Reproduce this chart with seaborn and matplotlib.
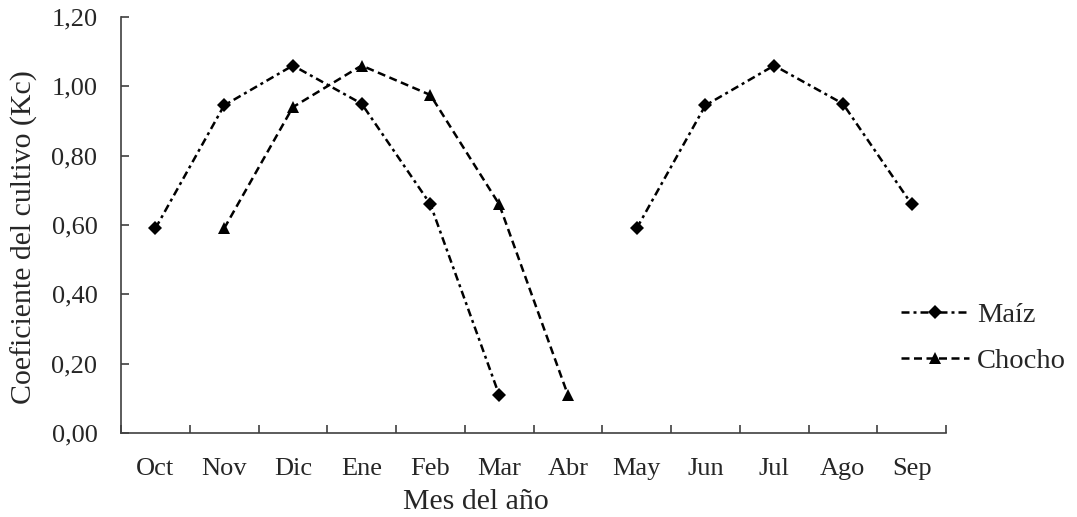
import numpy as np
import pandas as pd
import matplotlib
matplotlib.use("Agg")
import matplotlib.pyplot as plt
from matplotlib.ticker import FuncFormatter, FixedLocator
import seaborn as sns

# Crop coefficient (Kc) by month, agricultural year Oct-Sep
meses = ["Oct", "Nov", "Dic", "Ene", "Feb", "Mar", "Abr", "May", "Jun", "Jul", "Ago", "Sep"]
kc_maiz = [0.59, 0.945, 1.06, 0.95, 0.66, 0.11, np.nan, 0.59, 0.945, 1.06, 0.95, 0.66]
kc_chocho = [np.nan, 0.59, 0.94, 1.06, 0.975, 0.66, 0.11, np.nan, np.nan, np.nan, np.nan, np.nan]
y_ticks = [0.0, 0.2, 0.4, 0.6, 0.8, 1.0, 1.2]


def segmentos(valores):
    """Split a monthly series into continuous runs (gaps are NaN)."""
    partes, actual = [], []
    for i, v in enumerate(valores):
        if np.isnan(v):
            if actual:
                partes.append(actual)
            actual = []
        else:
            actual.append((i, v))
    if actual:
        partes.append(actual)
    return [pd.DataFrame(p, columns=["pos", "Kc"]) for p in partes]


sns.set_theme(style="white")
plt.rcParams["font.family"] = ["Liberation Serif", "DejaVu Serif"]
plt.rcParams["font.size"] = 19

fig = plt.figure(figsize=(10.77, 5.17), dpi=100)
ax = fig.add_axes([121 / 1077, 84 / 517, 825 / 1077, 416 / 517])

estilos = {
    "Maíz": dict(marker="D", markersize=6.8, dashes=(3.2, 1.6, 1.2, 1.6), values=kc_maiz),
    "Chocho": dict(marker="^", markersize=9.0, dashes=(3.2, 1.8), values=kc_chocho),
}

handles = []
for nombre, est in estilos.items():
    for k, seg in enumerate(segmentos(est["values"])):
        sns.lineplot(data=seg, x="pos", y="Kc", ax=ax, color="black",
                     linewidth=1.8, marker=est["marker"], markersize=est["markersize"],
                     markeredgewidth=0, legend=False)
        line = ax.lines[-1]
        line.set_dashes(est["dashes"])
        if k == 0:
            handles.append((line, nombre))

ax.set_xlim(-0.5, len(meses) - 0.5)
ax.set_ylim(0, 1.2)

# Category boundaries carry the ticks, month names sit in the middle
ax.xaxis.set_major_locator(FixedLocator(np.arange(-0.5, len(meses), 1.0)))
ax.xaxis.set_major_formatter(FuncFormatter(lambda v, p: ""))
ax.xaxis.set_minor_locator(FixedLocator(np.arange(len(meses))))
ax.set_xticklabels(meses, minor=True)
ax.tick_params(axis="x", which="major", direction="in", length=6, width=1.2,
               color="#404040", bottom=True)
ax.tick_params(axis="x", which="minor", length=0, pad=18, labelsize=19)

ax.set_yticks(y_ticks)
ax.yaxis.set_major_formatter(FuncFormatter(lambda v, p: f"{v:.2f}".replace(".", ",")))
ax.tick_params(axis="y", direction="in", length=6, width=1.2, color="#404040",
               left=True, pad=17, labelsize=19)

for side in ("top", "right"):
    ax.spines[side].set_visible(False)
for side in ("left", "bottom"):
    ax.spines[side].set_color("#404040")
    ax.spines[side].set_linewidth(1.2)

ax.grid(False)
ax.set_xlabel("Mes del año", fontsize=21.5)
ax.xaxis.set_label_coords((476 - 121) / 825, -(489 - 433) / 416)
ax.set_ylabel("Coeficiente del cultivo (Kc)", fontsize=21.5)
ax.yaxis.set_label_coords((38 - 121) / 825, 0.47)

fig.legend([h for h, _ in handles], [n for _, n in handles],
           loc="center left", bbox_to_anchor=(901 / 1077, (517 - 338) / 517),
           bbox_transform=fig.transFigure, frameon=False, fontsize=20.5,
           handlelength=2.4, handletextpad=0.28, labelspacing=0.72,
           borderpad=0, borderaxespad=0)

fig.savefig("out.png", dpi=100, facecolor="white")
